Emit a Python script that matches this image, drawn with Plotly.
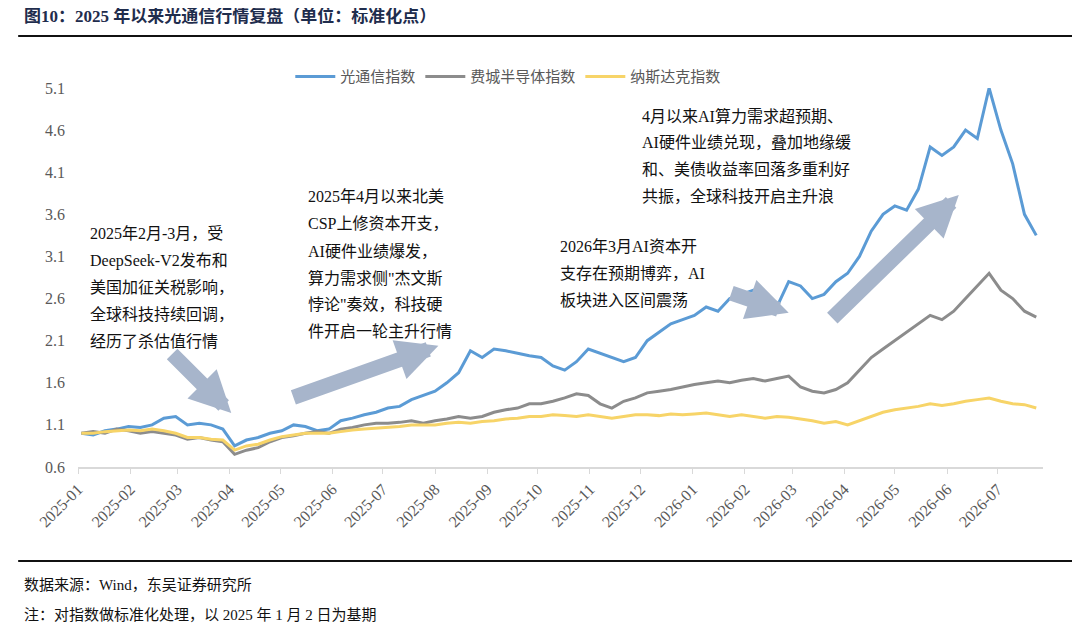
import pandas as pd
import plotly.graph_objects as go

dates = pd.date_range("2025-01-03", periods=82, freq="W-FRI")

optical = [
    1.0, 0.98, 1.03, 1.05, 1.08,
    1.07, 1.1, 1.18, 1.2,
    1.1, 1.12, 1.1, 1.05,
    0.85, 0.92, 0.95, 1.0,
    1.03, 1.1, 1.08, 1.03, 1.05,
    1.15, 1.18, 1.22, 1.25,
    1.3, 1.32, 1.4, 1.45,
    1.5, 1.6, 1.72, 1.98, 1.9,
    2.0, 1.98, 1.95, 1.92,
    1.9, 1.8, 1.75, 1.85, 2.0,
    1.95, 1.9, 1.85, 1.9,
    2.1, 2.2, 2.3, 2.35,
    2.4, 2.5, 2.45, 2.6, 2.65,
    2.7, 2.55, 2.5, 2.8,
    2.75, 2.6, 2.65, 2.8,
    2.9, 3.1, 3.4, 3.6,
    3.7, 3.65, 3.9, 4.4, 4.3,
    4.4, 4.6, 4.5, 5.1,
    4.6, 4.2, 3.6, 3.35,
]
sox = [
    1.0, 1.02, 1.0, 1.05, 1.03,
    1.0, 1.02, 1.0, 0.98,
    0.93, 0.95, 0.92, 0.9,
    0.75, 0.8, 0.83, 0.9,
    0.95, 0.97, 1.0, 1.02, 1.0,
    1.05, 1.07, 1.1, 1.12,
    1.12, 1.13, 1.15, 1.12,
    1.15, 1.17, 1.2, 1.18, 1.2,
    1.25, 1.28, 1.3, 1.35,
    1.35, 1.38, 1.42, 1.47, 1.45,
    1.35, 1.3, 1.38, 1.42,
    1.48, 1.5, 1.52, 1.55,
    1.58, 1.6, 1.62, 1.6, 1.63,
    1.65, 1.62, 1.65, 1.68,
    1.55, 1.5, 1.48, 1.52,
    1.6, 1.75, 1.9, 2.0,
    2.1, 2.2, 2.3, 2.4, 2.35,
    2.45, 2.6, 2.75, 2.9,
    2.7, 2.6, 2.45, 2.38,
]
nasdaq = [
    1.0, 1.0, 1.02, 1.03, 1.04,
    1.03, 1.05, 1.03, 1.0,
    0.95, 0.95, 0.93, 0.92,
    0.8, 0.85, 0.87, 0.92,
    0.96, 0.98, 1.0, 1.0, 1.0,
    1.02, 1.04, 1.05, 1.06,
    1.07, 1.08, 1.1, 1.1,
    1.1, 1.12, 1.13, 1.12, 1.14,
    1.15, 1.17, 1.18, 1.2,
    1.2, 1.22, 1.21, 1.2, 1.22,
    1.2, 1.18, 1.2, 1.22,
    1.22, 1.21, 1.23, 1.22,
    1.23, 1.24, 1.22, 1.2, 1.22,
    1.2, 1.18, 1.2, 1.19,
    1.17, 1.15, 1.12, 1.14,
    1.1, 1.15, 1.2, 1.25,
    1.28, 1.3, 1.32, 1.35, 1.33,
    1.35, 1.38, 1.4, 1.42,
    1.38, 1.35, 1.34, 1.3,
]
month_ticks = pd.date_range("2025-01-01", "2026-07-01", freq="MS")

SERIF = "Liberation Serif, Noto Sans CJK SC"
ARROW = "#a7b5cb"

fig = go.Figure()
fig.add_trace(go.Scatter(x=dates, y=optical, name="光通信指数", mode="lines",
                         line=dict(color="#5b9bd5", width=3)))
fig.add_trace(go.Scatter(x=dates, y=sox, name="费城半导体指数", mode="lines",
                         line=dict(color="#8c8c8c", width=3)))
fig.add_trace(go.Scatter(x=dates, y=nasdaq, name="纳斯达克指数", mode="lines",
                         line=dict(color="#f7d468", width=3)))

arrows = [
    ("2025-02-25", 1.96, "2025-04-02", 1.24),
    ("2025-05-08", 1.42, "2025-08-03", 2.04),
    ("2026-01-23", 2.67, "2026-02-27", 2.43),
    ("2026-03-24", 2.35, "2026-06-08", 3.83),
]
for x0, y0, x1, y1 in arrows:
    fig.add_annotation(x=x1, y=y1, ax=x0, ay=y0, xref="x", yref="y", axref="x", ayref="y",
                       showarrow=True, arrowhead=2, arrowsize=0.55, arrowwidth=15,
                       arrowcolor=ARROW, text="")

notes = [
    (0.01, 0.644, ["2025年2月-3月，受", "DeepSeek-V2发布和", "美国加征关税影响，",
                   "全球科技持续回调，", "经历了杀估值行情"]),
    (0.236, 0.741, ["2025年4月以来北美", "CSP上修资本开支，", "AI硬件业绩爆发，",
                    "算力需求侧\"杰文斯", "悖论\"奏效，科技硬", "件开启一轮主升行情"]),
    (0.497, 0.609, ["2026年3月AI资本开", "支存在预期博弈，AI", "板块进入区间震荡"]),
    (0.582, 0.955, ["4月以来AI算力需求超预期、", "AI硬件业绩兑现，叠加地缘缓",
                    "和、美债收益率回落多重利好", "共振，全球科技开启主升浪"]),
]
for x, y, lines in notes:
    for i, line in enumerate(lines):
        fig.add_annotation(x=x, y=y - i * 27 / 379, xref="paper", yref="paper",
                           xanchor="left", yanchor="top", showarrow=False, text=line,
                           font=dict(family=SERIF, size=16, color="#111"))

fig.add_annotation(x=-0.058, y=1.19, xref="paper", yref="paper", xanchor="left", yanchor="middle",
                   showarrow=False, text="<b>图10：2025 年以来光通信行情复盘（单位：标准化点）</b>",
                   font=dict(family=SERIF, size=17, color="#1f2d4d"))
fig.add_annotation(x=-0.058, y=-0.311, xref="paper", yref="paper", xanchor="left", yanchor="middle",
                   showarrow=False, text="数据来源：Wind，东吴证券研究所",
                   font=dict(family=SERIF, size=15, color="#111"))
fig.add_annotation(x=-0.058, y=-0.39, xref="paper", yref="paper", xanchor="left", yanchor="middle",
                   showarrow=False, text="注：对指数做标准化处理，以 2025 年 1 月 2 日为基期",
                   font=dict(family=SERIF, size=15, color="#111"))
for yy in (1.137, -0.248):
    fig.add_shape(type="line", xref="paper", yref="paper", x0=-0.062, x1=1.041, y0=yy, y1=yy,
                  line=dict(color="#111", width=2))

fig.update_layout(
    width=1080, height=630, margin=dict(l=70, r=45, t=80, b=171),
    paper_bgcolor="white", plot_bgcolor="white",
    font=dict(family=SERIF, size=15, color="#595959"),
    legend=dict(orientation="h", x=0.22, y=1.03, xanchor="left", yanchor="middle",
                font=dict(family=SERIF, size=15, color="#595959"), itemwidth=40),
    xaxis=dict(range=["2025-01-01", "2026-07-28"], tickvals=month_ticks,
               ticktext=[d.strftime("%Y-%m") for d in month_ticks], tickangle=-45,
               tickfont=dict(size=16), showgrid=False, showline=True, linecolor="#d9d9d9",
               linewidth=1.5, ticks="outside", tickcolor="#d9d9d9", ticklen=5),
    yaxis=dict(range=[0.6, 5.1], tickvals=[0.6, 1.1, 1.6, 2.1, 2.6, 3.1, 3.6, 4.1, 4.6, 5.1],
               tickformat=".1f", tickfont=dict(size=16), ticklabelstandoff=12,
               showgrid=False, zeroline=False, showline=False),
)

fig.write_html("out.html")
